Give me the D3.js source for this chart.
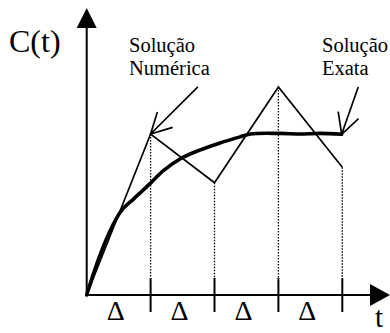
<!DOCTYPE html>
<html>
<head>
<meta charset="utf-8">
<script src="https://cdn.jsdelivr.net/npm/d3@7"></script>
<style>
  html, body { margin: 0; padding: 0; background: #fff; }
  #chart { position: relative; width: 390px; height: 333px; }
  #chart svg { position: absolute; left: 0; top: 0; display: block; }
</style>
</head>
<body>
<div id="chart"></div>
<script>
// ---- data (t in units of Δ, C in arbitrary units) ----
const stepT = [0, 1, 2, 3, 4];
const numericalC = [0, 5.61, 3.91, 7.25, 4.45];

const exactT = [0, 0.11, 0.22, 0.35, 0.45, 0.55, 0.74, 1.0, 1.2, 1.46, 1.77, 2.09, 2.4, 2.56, 3.02, 3.34, 3.65, 3.99];
const exactC = [0, 0.77, 1.46, 2.16, 2.61, 2.96, 3.36, 3.9, 4.33, 4.74, 5.05, 5.3, 5.51, 5.61, 5.63, 5.61, 5.63, 5.6];

const intervalLabels = ["Δ", "Δ", "Δ", "Δ"];
const yAxisLabel = "C(t)";
const xAxisLabel = "t";
const numLabel = ["Solução", "Numérica"];
const exactLabel = ["Solução", "Exata"];
// label arrows: tail point (t, C) → head at a series point
const numArrowTail = [1.74, 7.25];
const exactArrowTail = [4.25, 7.25];

// ---- layout ----
const W = 390, H = 333;
const x = d3.scaleLinear().domain([0, 4]).range([86.7, 342.3]);
const y = d3.scaleLinear().domain([0, 10]).range([295, 8]);

const svg = d3.select("#chart").append("svg")
  .attr("width", W).attr("height", H);

// axes
const x0 = x(0), y0 = y(0);
svg.append("line").attr("x1", x0).attr("x2", x0).attr("y1", y0).attr("y2", 26)
  .attr("stroke", "#000").attr("stroke-width", 2);
svg.append("path").attr("d", `M${x0},${y(10)} L${x0 - 10},28 L${x0 + 10},28 Z`).attr("fill", "#000");
svg.append("line").attr("x1", x0).attr("x2", 372).attr("y1", y0).attr("y2", y0)
  .attr("stroke", "#000").attr("stroke-width", 2);
svg.append("path").attr("d", `M390,${y0} L370,${y0 - 11} L370,${y0 + 11} Z`).attr("fill", "#000");

// ticks
svg.selectAll("line.tick").data(stepT.slice(1)).enter().append("line")
  .attr("class", "tick")
  .attr("x1", d => x(d)).attr("x2", d => x(d))
  .attr("y1", y0 - 17).attr("y2", y0 + 17)
  .attr("stroke", "#000").attr("stroke-width", 2);

// dotted drop lines
svg.selectAll("line.drop").data(stepT.slice(1)).enter().append("line")
  .attr("class", "drop")
  .attr("x1", d => x(d)).attr("x2", d => x(d))
  .attr("y1", (d, i) => y(numericalC[i + 1])).attr("y2", y0 - 17)
  .attr("stroke", "#000").attr("stroke-width", 1.3)
  .attr("stroke-dasharray", "1.5,1.5");

// numerical solution
const numLine = d3.line().x(d => x(d[0])).y(d => y(d[1]));
svg.append("path")
  .attr("d", numLine(stepT.map((t, i) => [t, numericalC[i]])))
  .attr("fill", "none").attr("stroke", "#000").attr("stroke-width", 1.7)
  .attr("stroke-linejoin", "miter");

// exact solution
const exLine = d3.line().x(d => x(d[0])).y(d => y(d[1])).curve(d3.curveCatmullRom.alpha(0.5));
svg.append("path")
  .attr("d", exLine(exactT.map((t, i) => [t, exactC[i]])))
  .attr("fill", "none").attr("stroke", "#000").attr("stroke-width", 3.6)
  .attr("stroke-linecap", "round").attr("stroke-linejoin", "round");

// label arrows
function arrow(tail, head) {
  const hx = x(head[0]), hy = y(head[1]);
  const tx = x(tail[0]), ty = y(tail[1]);
  const ang = Math.atan2(ty - hy, tx - hx);
  const L = 23, a = 28 * Math.PI / 180;
  const p = `M${tx},${ty} L${hx},${hy}` +
    ` M${hx + L * Math.cos(ang - a)},${hy + L * Math.sin(ang - a)} L${hx},${hy}` +
    ` L${hx + L * Math.cos(ang + a)},${hy + L * Math.sin(ang + a)}`;
  svg.append("path").attr("d", p).attr("fill", "none")
    .attr("stroke", "#000").attr("stroke-width", 1.7);
}
arrow(numArrowTail, [stepT[1], numericalC[1]]);
arrow(exactArrowTail, [exactT[exactT.length - 1], exactC[exactC.length - 1]]);

// text layer (separate overlay svg)
const tsvg = d3.select("#chart").append("svg").attr("width", W).attr("height", H);
function txt(sel, size) {
  return sel.style("font-family", '"Liberation Serif"').style("font-size", size + "px");
}
txt(tsvg.append("text"), 32).attr("x", 9).attr("y", 52).text(yAxisLabel);
txt(tsvg.append("text"), 29).attr("x", 375).attr("y", 327).text(xAxisLabel);

txt(tsvg.selectAll("text.delta").data(intervalLabels).enter().append("text"), 28)
  .attr("class", "delta")
  .attr("x", (d, i) => x(i + 0.5) - 3).attr("y", 320)
  .attr("text-anchor", "middle").text(d => d);

const nl = txt(tsvg.append("text"), 20.5).attr("x", 129).attr("y", 52);
numLabel.forEach((s, i) => nl.append("tspan").attr("x", 129).attr("dy", i ? 23 : 0).text(s));
const el = txt(tsvg.append("text"), 20.5).attr("x", 322).attr("y", 52);
exactLabel.forEach((s, i) => el.append("tspan").attr("x", 322).attr("dy", i ? 23 : 0).text(s));
</script>
</body>
</html>
